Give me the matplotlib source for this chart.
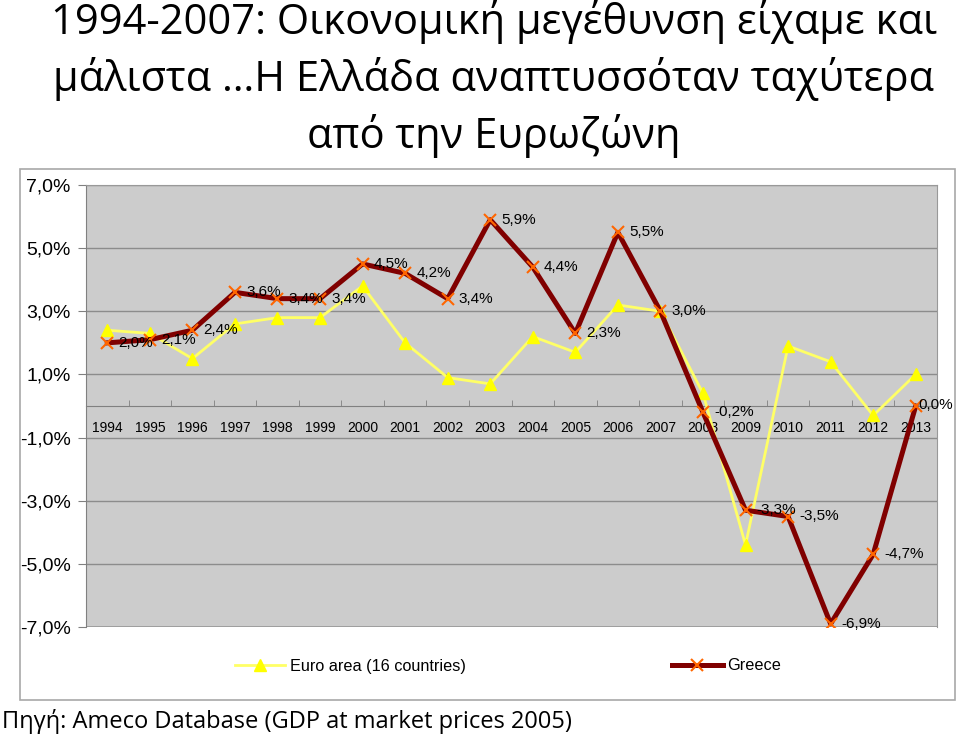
import matplotlib.pyplot as plt
from matplotlib.lines import Line2D
from matplotlib.patches import Rectangle

years = [str(y) for y in range(1994, 2014)]
euro_area = [2.4, 2.3, 1.5, 2.6, 2.8, 2.8, 3.8, 2.0, 0.9, 0.7,
             2.2, 1.7, 3.2, 3.0, 0.4, -4.4, 1.9, 1.4, -0.3, 1.0]
greece = [2.0, 2.1, 2.4, 3.6, 3.4, 3.4, 4.5, 4.2, 3.4, 5.9,
          4.4, 2.3, 5.5, 3.0, -0.2, -3.3, -3.5, -6.9, -4.7, 0.0]
y_ticks = [7, 5, 3, 1, -1, -3, -5, -7]

title_lines = ["1994-2007: Οικονομική μεγέθυνση είχαμε και",
               "μάλιστα …Η Ελλάδα αναπτυσσόταν ταχύτερα",
               "από την Ευρωζώνη"]
source = "Πηγή: Ameco Database (GDP at market prices 2005)"

W, H = 960, 740
fig = plt.figure(figsize=(W / 100, H / 100), dpi=100)

# chart frame
fig.patches.append(Rectangle((20 / W, 1 - 700 / H), 935 / W, 531 / H,
                             transform=fig.transFigure, fill=False,
                             edgecolor='#a8a8a8', lw=1.2))

ax = fig.add_axes([86 / W, 1 - 627 / H, 851 / W, 442 / H])
ax.set_facecolor('#cccccc')
x = list(range(len(years)))

ax.plot(x, euro_area, color='#ffff66', lw=2, marker='^', ms=9,
        mfc='#ffff00', mec='#ffff00', zorder=3)
ax.plot(x, greece, color='#800000', lw=3.6, marker='x', ms=8,
        mew=1.5, mec='#ff6600', zorder=4)

for xi, v in zip(x, greece):
    # last label sits tight against the chart's right edge
    off = (2, 1) if xi == len(years) - 1 else (8, 0)
    ax.annotate(f"{v:.1f}%".replace('.', ','), (xi, v), xytext=off,
                textcoords='offset points', ha='left', va='center',
                fontsize=11, family='Liberation Sans', zorder=5)

ax.set_xlim(-0.5, len(years) - 0.5)
ax.set_ylim(-7, 7)
ax.set_yticks(y_ticks)
ax.set_yticklabels([f"{t:.1f}%".replace('.', ',') for t in y_ticks],
                   fontsize=14, family='Liberation Sans')
ax.yaxis.grid(True, color='#8c8c8c', lw=1)
ax.set_axisbelow(True)

ax.spines['bottom'].set_position(('data', 0))
ax.set_xticks(x)
ax.set_xticklabels(years, fontsize=10, family='Liberation Sans')
ax.tick_params(axis='x', length=0, pad=11)
ax.set_xticks([i - 0.5 for i in range(len(years) + 1)], minor=True)
ax.tick_params(axis='x', which='minor', length=4, direction='in', color='#808080')
ax.tick_params(axis='y', length=6, color='#808080', pad=5)
for s in ax.spines.values():
    s.set_color('#808080')
ax.spines['top'].set_color('#999999')
ax.spines['right'].set_color('#999999')
# bottom edge of the plot area
ax.axhline(-7, color='#999999', lw=1.2)

handles = [Line2D([], [], color='#ffff66', lw=2, marker='^', ms=9,
                  mfc='#ffff00', mec='#ffff00'),
           Line2D([], [], color='#800000', lw=3.6, marker='x', ms=8,
                  mew=1.5, mec='#ff6600')]
fig.legend(handles, ["Euro area (16 countries)", "Greece"], ncol=2,
           loc='center', bbox_to_anchor=(508 / W, 1 - 666 / H),
           frameon=False, prop={'family': 'Liberation Sans', 'size': 11.7},
           handlelength=3.1, handletextpad=0.3, columnspacing=12.7)

for i, line in enumerate(title_lines):
    fig.text(494 / W, 1 - (22 + 57 * i) / H, line, ha='center', va='center',
             fontsize=30, family=['Open Sans', 'DejaVu Sans'])

fig.text(2 / W, 1 - 722 / H, source, ha='left', va='center',
         fontsize=17, family=['Open Sans', 'DejaVu Sans'])

fig.savefig('out.png', dpi=100)
